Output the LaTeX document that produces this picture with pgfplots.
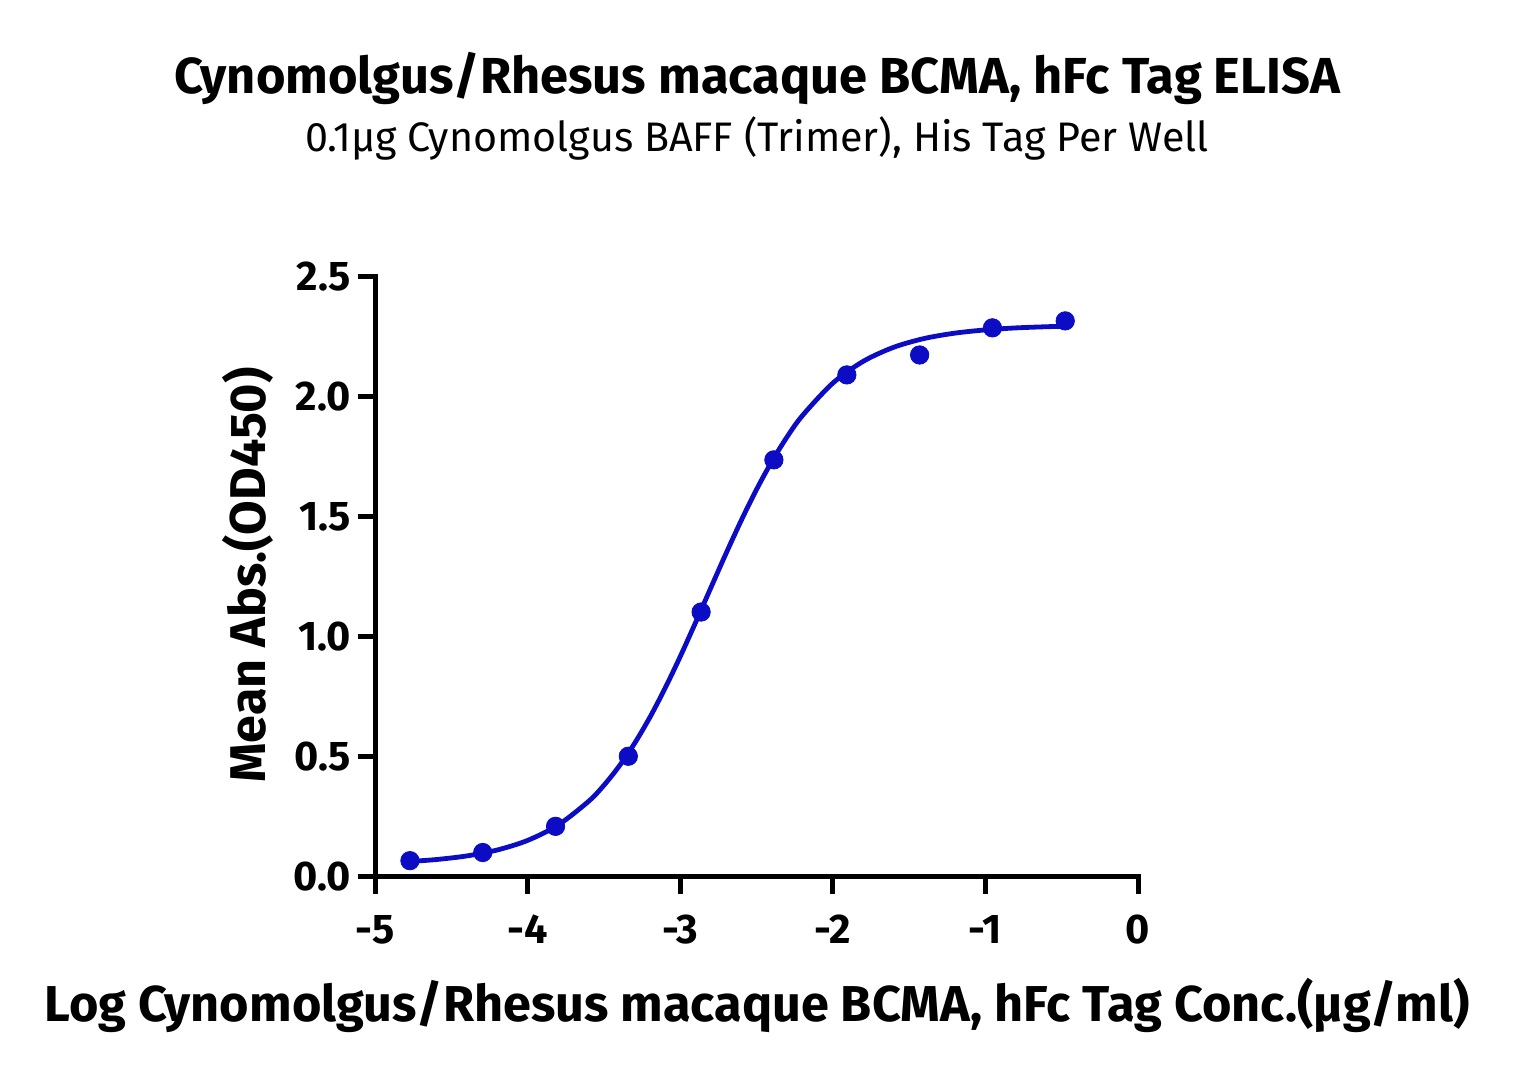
\documentclass[border=0pt]{standalone}
\usepackage{fontspec}
\setmainfont{Fira Sans}
\usepackage{pgfplots}
\pgfplotsset{compat=1.18}
\definecolor{pblue}{RGB}{12,12,196}
\begin{document}
\begin{tikzpicture}[x=1bp,y=1bp]
\useasboundingbox (0,0) rectangle (757,538);
\begin{axis}[
  at={(187.5bp,99.5bp)}, anchor=south west,
  scale only axis, width=381.5bp, height=300bp,
  xmin=-5, xmax=0, ymin=0, ymax=2.5,
  axis lines=left,
  axis line style={-, line width=2.5bp, line cap=rect},
  xtick={-5,-4,-3,-2,-1,0},
  ytick={0,0.5,1,1.5,2,2.5},
  tick align=outside,
  major tick length=8.5bp,
  tick style={line width=2.5bp, black},
  /pgf/number format/assume math mode=true,
  yticklabel style={/pgf/number format/.cd, fixed, fixed zerofill, precision=1},
  xticklabel style={yshift=-7bp},
  tick label style={font=\bfseries\fontsize{20.8}{20.8}\selectfont},
  clip=false,
]
\addplot[pblue, line width=2.4bp, smooth] coordinates {
(-4.8,0.0635) (-4.6,0.0726) (-4.4,0.0876) (-4.2,0.1123) (-4.0,0.1524)
(-3.8,0.2164) (-3.6,0.3155) (-3.5,0.382) (-3.4,0.4618) (-3.3,0.5558)
(-3.2,0.6638) (-3.1,0.7855) (-3.0,0.9183) (-2.9,1.0594) (-2.8,1.204)
(-2.7,1.3476) (-2.6,1.4857) (-2.5,1.6144) (-2.4,1.7308) (-2.3,1.8334)
(-2.2,1.9218) (-2.0,2.0577) (-1.8,2.1488) (-1.6,2.2073) (-1.4,2.2438)
(-1.2,2.266) (-1.0,2.2795) (-0.8,2.2878) (-0.6,2.2927) (-0.478,2.2946)
};
\addplot[only marks, mark=*, mark size=4.6bp, pblue, mark options={draw=pblue, fill=pblue}] coordinates {
(-4.771,0.068) (-4.294,0.102) (-3.817,0.211) (-3.340,0.503)
(-2.863,1.104) (-2.386,1.738) (-1.908,2.092) (-1.431,2.175)
(-0.954,2.288) (-0.477,2.317)
};
\end{axis}
\node[font=\bfseries\fontsize{25.4}{25.4}\selectfont] at (378.5,499) {Cynomolgus/Rhesus macaque BCMA, hFc Tag ELISA};
\node[font=\fontsize{20.7}{20.7}\selectfont] at (378.5,469) {0.1µg Cynomolgus BAFF (Trimer), His Tag Per Well};
\node[font=\bfseries\fontsize{25.3}{25.3}\selectfont] at (378.5,35.5) {Log Cynomolgus/Rhesus macaque BCMA, hFc Tag Conc.(µg/ml)};
\node[font=\bfseries\fontsize{25.2}{25.2}\selectfont, rotate=90] at (124,250.5) {Mean Abs.(OD450)};
\end{tikzpicture}
\end{document}
